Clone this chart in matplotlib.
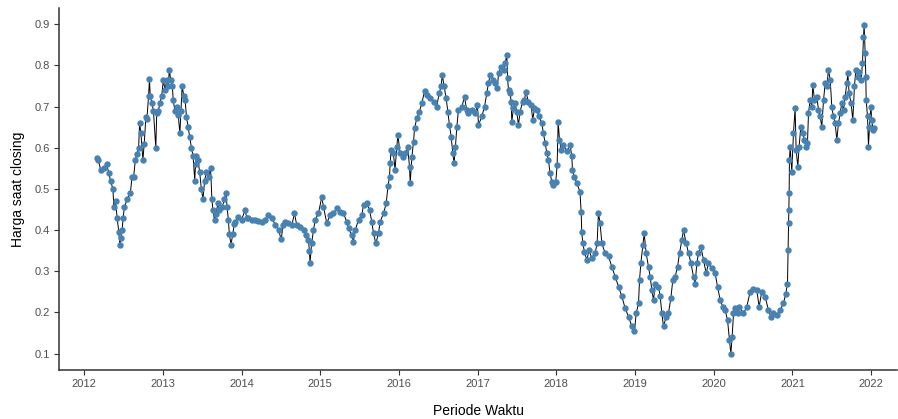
import matplotlib
matplotlib.use("Agg")
import matplotlib.pyplot as plt

# closing price (decimal year, value)
t = [
    2012.168, 2012.18, 2012.21, 2012.25, 2012.285, 2012.314, 2012.335, 2012.365, 2012.377, 2012.398,
    2012.419, 2012.44, 2012.453, 2012.468, 2012.482, 2012.495, 2012.51, 2012.545, 2012.587, 2012.608,
    2012.629, 2012.65, 2012.671, 2012.692, 2012.704, 2012.721, 2012.746, 2012.763, 2012.784, 2012.797,
    2012.818, 2012.83, 2012.839, 2012.86, 2012.88, 2012.91, 2012.922, 2012.943, 2012.964, 2012.985,
    2013.006, 2013.027, 2013.048, 2013.069, 2013.082, 2013.099, 2013.12, 2013.132, 2013.153, 2013.174,
    2013.195, 2013.216, 2013.23, 2013.245, 2013.266, 2013.283, 2013.30, 2013.321, 2013.342, 2013.363,
    2013.384, 2013.405, 2013.415, 2013.426, 2013.447, 2013.468, 2013.489, 2013.51, 2013.53, 2013.551,
    2013.581, 2013.606, 2013.623, 2013.635, 2013.656, 2013.677, 2013.698, 2013.719, 2013.753, 2013.782,
    2013.803, 2013.816, 2013.832, 2013.845, 2013.866, 2013.887, 2013.908,
    2013.92, 2013.96, 2014.0, 2014.045, 2014.066, 2014.088, 2014.13, 2014.17, 2014.215, 2014.257,
    2014.3, 2014.34, 2014.385, 2014.43, 2014.47, 2014.503, 2014.53, 2014.553, 2014.596, 2014.64,
    2014.672, 2014.70, 2014.744, 2014.79, 2014.82, 2014.85, 2014.862, 2014.87, 2014.89, 2014.914,
    2014.935, 2014.977, 2015.02, 2015.04, 2015.083, 2015.125,
    2015.168, 2015.21, 2015.25, 2015.295, 2015.338, 2015.36, 2015.40, 2015.42, 2015.444, 2015.486,
    2015.528, 2015.55, 2015.59, 2015.626, 2015.655, 2015.677, 2015.706, 2015.74, 2015.76, 2015.804,
    2015.838, 2015.86, 2015.88, 2015.888, 2015.90, 2015.93, 2015.95, 2015.973, 2015.986, 2016.015,
    2016.05, 2016.08, 2016.11, 2016.134, 2016.143, 2016.164, 2016.185, 2016.198, 2016.227, 2016.26,
    2016.29, 2016.325, 2016.354, 2016.40, 2016.44, 2016.48, 2016.51, 2016.536, 2016.55, 2016.574,
    2016.60, 2016.62, 2016.642, 2016.663, 2016.684, 2016.70, 2016.718, 2016.735, 2016.756, 2016.80,
    2016.833, 2016.86,
    2016.883, 2016.926, 2016.968, 2016.998, 2017.01, 2017.053, 2017.087, 2017.116, 2017.137, 2017.16,
    2017.20, 2017.22, 2017.25, 2017.265, 2017.30, 2017.33, 2017.35, 2017.37, 2017.38, 2017.392,
    2017.413, 2017.426, 2017.434, 2017.455, 2017.476, 2017.497, 2017.518, 2017.54, 2017.57, 2017.595,
    2017.612, 2017.646, 2017.68, 2017.70, 2017.722, 2017.752, 2017.781, 2017.815, 2017.836, 2017.858,
    2017.879, 2017.90, 2017.92, 2017.942, 2017.963, 2017.993, 2018.01, 2018.023, 2018.04, 2018.061,
    2018.09, 2018.133, 2018.175, 2018.196, 2018.205, 2018.226, 2018.26, 2018.30, 2018.315, 2018.323,
    2018.336, 2018.357, 2018.387, 2018.416, 2018.45, 2018.493, 2018.518, 2018.535, 2018.556, 2018.578,
    2018.62, 2018.663, 2018.705, 2018.747, 2018.79, 2018.832, 2018.875, 2018.917, 2018.96, 2018.993,
    2019.014, 2019.044, 2019.057, 2019.074, 2019.099, 2019.116, 2019.141, 2019.171, 2019.192, 2019.213,
    2019.235, 2019.256, 2019.298, 2019.32, 2019.34, 2019.362, 2019.395, 2019.425, 2019.455, 2019.48,
    2019.51, 2019.54, 2019.565, 2019.595, 2019.616, 2019.65, 2019.68, 2019.71, 2019.743, 2019.764,
    2019.785, 2019.806, 2019.836, 2019.87, 2019.904, 2019.933, 2019.976, 2020.018, 2020.048, 2020.082,
    2020.116, 2020.145, 2020.175, 2020.20, 2020.217, 2020.234, 2020.251, 2020.272, 2020.302, 2020.327,
    2020.378, 2020.42, 2020.462, 2020.505, 2020.547, 2020.577, 2020.61, 2020.653, 2020.695, 2020.725,
    2020.759, 2020.80, 2020.843, 2020.886, 2020.915, 2020.937,
    2020.945, 2020.95, 2020.955, 2020.958, 2020.962, 2020.971, 2020.992, 2021.013, 2021.034, 2021.047,
    2021.068, 2021.085, 2021.106, 2021.132, 2021.153, 2021.17, 2021.191, 2021.204, 2021.225, 2021.246,
    2021.259, 2021.28, 2021.31, 2021.331, 2021.352, 2021.373, 2021.395, 2021.416, 2021.437, 2021.458,
    2021.48, 2021.50, 2021.521, 2021.543, 2021.564, 2021.585, 2021.606, 2021.627, 2021.649, 2021.67,
    2021.691, 2021.704, 2021.72, 2021.746, 2021.767, 2021.788, 2021.805, 2021.83, 2021.852, 2021.873,
    2021.89, 2021.903, 2021.911, 2021.924, 2021.932, 2021.937, 2021.954, 2021.966, 2021.979, 2021.996,
    2022.009, 2022.022, 2022.039,
]
price = [
    0.575, 0.57, 0.546, 0.55, 0.56, 0.538, 0.52, 0.50, 0.457, 0.47,
    0.43, 0.395, 0.365, 0.38, 0.40, 0.43, 0.455, 0.475, 0.49, 0.53,
    0.53, 0.57, 0.585, 0.60, 0.66, 0.635, 0.57, 0.61, 0.675, 0.67,
    0.725, 0.767, 0.725, 0.71, 0.69, 0.60, 0.684, 0.69, 0.71, 0.725,
    0.765, 0.74, 0.765, 0.75, 0.79, 0.765, 0.75, 0.715, 0.69, 0.70,
    0.68, 0.635, 0.69, 0.75, 0.725, 0.715, 0.675, 0.65, 0.625, 0.60,
    0.58, 0.52, 0.56, 0.58, 0.57, 0.54, 0.50, 0.475, 0.52, 0.54,
    0.53, 0.55, 0.475, 0.45, 0.425, 0.44, 0.465, 0.45, 0.456, 0.475,
    0.49, 0.456, 0.425, 0.39, 0.365, 0.39, 0.415,
    0.42, 0.433, 0.425, 0.449, 0.43, 0.429, 0.425, 0.425, 0.423, 0.42,
    0.425, 0.437, 0.429, 0.413, 0.40, 0.378, 0.413, 0.42, 0.417, 0.413,
    0.441, 0.413, 0.408, 0.40, 0.388, 0.376, 0.35, 0.32, 0.368, 0.40,
    0.425, 0.441, 0.481, 0.457, 0.417, 0.437,
    0.441, 0.453, 0.445, 0.441, 0.42, 0.404, 0.388, 0.372, 0.40, 0.425,
    0.437, 0.461, 0.465, 0.449, 0.42, 0.392, 0.368, 0.392, 0.42, 0.441,
    0.465, 0.506, 0.53, 0.562, 0.595, 0.587, 0.546, 0.603, 0.631, 0.587,
    0.578, 0.587, 0.603, 0.554, 0.514, 0.578, 0.615, 0.647, 0.672, 0.688,
    0.708, 0.737, 0.728, 0.72, 0.712, 0.70, 0.732, 0.749, 0.777, 0.749,
    0.72, 0.688, 0.655, 0.627, 0.587, 0.562, 0.603, 0.651, 0.692, 0.70,
    0.724, 0.692,
    0.684, 0.692, 0.684, 0.704, 0.655, 0.676, 0.70, 0.732, 0.757, 0.777,
    0.765, 0.757, 0.745, 0.781, 0.797, 0.789, 0.805, 0.826, 0.769, 0.74,
    0.732, 0.712, 0.663, 0.696, 0.708, 0.688, 0.655, 0.688, 0.712, 0.716,
    0.736, 0.712, 0.704, 0.667, 0.696, 0.692, 0.676, 0.66, 0.635, 0.611,
    0.587, 0.57, 0.538, 0.518, 0.51, 0.518, 0.558, 0.663, 0.619, 0.595,
    0.607, 0.591, 0.607, 0.579, 0.546, 0.53, 0.514, 0.493, 0.445, 0.396,
    0.368, 0.348, 0.327, 0.352, 0.332, 0.344, 0.368, 0.441, 0.417, 0.368,
    0.344, 0.336, 0.311, 0.287, 0.263, 0.239, 0.21, 0.19, 0.166, 0.154,
    0.198, 0.222, 0.279, 0.32, 0.364, 0.392, 0.344, 0.311, 0.287, 0.255,
    0.23, 0.27, 0.263, 0.239, 0.198, 0.166, 0.19, 0.198, 0.235, 0.279,
    0.287, 0.311, 0.344, 0.376, 0.40, 0.368, 0.344, 0.32, 0.287, 0.27,
    0.32, 0.344, 0.36, 0.328, 0.295, 0.32, 0.307, 0.295, 0.263, 0.23,
    0.214, 0.206, 0.182, 0.133, 0.10, 0.141, 0.198, 0.21, 0.198, 0.214,
    0.198, 0.214, 0.25, 0.256, 0.254, 0.214, 0.25, 0.238, 0.206, 0.19,
    0.198, 0.194, 0.206, 0.222, 0.246, 0.27,
    0.352, 0.417, 0.449, 0.489, 0.57, 0.603, 0.542, 0.635, 0.696, 0.595,
    0.554, 0.603, 0.651, 0.635, 0.619, 0.603, 0.611, 0.684, 0.716, 0.70,
    0.753, 0.716, 0.724, 0.692, 0.676, 0.651, 0.716, 0.757, 0.749, 0.789,
    0.765, 0.70, 0.676, 0.659, 0.619, 0.659, 0.684, 0.708, 0.692, 0.724,
    0.757, 0.781, 0.732, 0.708, 0.667, 0.749, 0.789, 0.773, 0.785, 0.765,
    0.805, 0.87, 0.898, 0.83, 0.773, 0.716, 0.676, 0.603, 0.651, 0.70,
    0.667, 0.643, 0.647,
]

year_ticks = list(range(2012, 2023))
price_ticks = [0.1, 0.2, 0.3, 0.4, 0.5, 0.6, 0.7, 0.8, 0.9]

plt.rcParams['font.family'] = ['Liberation Sans', 'DejaVu Sans']

fig = plt.figure(figsize=(8.98, 4.19), dpi=100)
ax = fig.add_axes([0.0657, 0.117, 0.9333, 0.864])

ax.plot(t, price, color='black', lw=0.7, zorder=2)
ax.plot(t, price, linestyle='none', marker='o', ms=4.6, mew=0,
        color='#4682B4', zorder=3)

ax.set_xlim(2011.68, 2022.33)
ax.set_ylim(0.0604, 0.9396)
ax.set_xticks(year_ticks)
ax.set_xticklabels([str(y) for y in year_ticks])
ax.set_yticks(price_ticks)
ax.set_yticklabels([f"{v:.1f}" for v in price_ticks])

for side in ['top', 'right']:
    ax.spines[side].set_visible(False)
for side in ['left', 'bottom']:
    ax.spines[side].set_color('#333333')
    ax.spines[side].set_linewidth(1.1)

ax.tick_params(axis='both', colors='#333333', length=3.5, width=0.8,
               labelsize=8, labelcolor='#4D4D4D', pad=3)

ax.set_xlabel('Periode Waktu', fontsize=10, labelpad=11)
ax.set_ylabel('Harga saat closing', fontsize=10, labelpad=7)

fig.savefig('out.png', dpi=100)
